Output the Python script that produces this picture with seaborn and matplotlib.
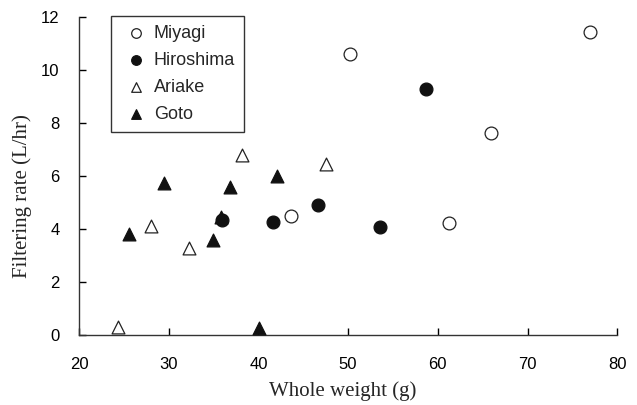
import matplotlib
matplotlib.use("Agg")
import matplotlib.pyplot as plt
import seaborn as sns
import pandas as pd

miyagi_x = [50.2, 77.0, 65.9, 61.2, 43.6]
miyagi_y = [10.6, 11.43, 7.62, 4.22, 4.48]
hiroshima_x = [58.7, 35.9, 41.6, 46.6, 53.6]
hiroshima_y = [9.27, 4.32, 4.26, 4.9, 4.08]
ariake_x = [24.4, 28.0, 32.3, 38.2, 47.5]
ariake_y = [0.3, 4.1, 3.3, 6.78, 6.47]
goto_x = [25.6, 29.5, 34.9, 36.8, 42.1, 40.1, 35.8]
goto_y = [3.8, 5.72, 3.58, 5.6, 6.0, 0.28, 4.45]

frames = []
for name, xs, ys in [("Miyagi", miyagi_x, miyagi_y), ("Hiroshima", hiroshima_x, hiroshima_y),
                     ("Ariake", ariake_x, ariake_y), ("Goto", goto_x, goto_y)]:
    frames.append(pd.DataFrame({"x": xs, "y": ys, "site": name}))
df = pd.concat(frames, ignore_index=True)

sns.set_style("ticks")
plt.rcParams["font.family"] = ["Liberation Sans", "DejaVu Sans"]

fig = plt.figure(figsize=(6.37, 4.05), dpi=100)
ax = fig.add_axes([0.124, 0.173, 0.845, 0.785])

styles = {
    "Miyagi": dict(marker="o", facecolor="white", edgecolor="#222222", s=85),
    "Hiroshima": dict(marker="o", facecolor="#111111", edgecolor="#111111", s=85),
    "Ariake": dict(marker="^", facecolor="white", edgecolor="#222222", s=85),
    "Goto": dict(marker="^", facecolor="#111111", edgecolor="#111111", s=85),
}
for name in ["Miyagi", "Hiroshima", "Ariake", "Goto"]:
    st = styles[name]
    sub = df[df["site"] == name]
    sns.scatterplot(data=sub, x="x", y="y", ax=ax, marker=st["marker"], s=st["s"],
                    facecolor=st["facecolor"], edgecolor=st["edgecolor"], linewidth=0.9,
                    label=name, clip_on=False, zorder=3)

ax.set_xlim(20, 80)
ax.set_ylim(0, 12)
ax.set_xticks(range(20, 81, 10))
ax.set_yticks(range(0, 13, 2))
ax.tick_params(direction="in", length=5, width=1, labelsize=12, colors="black")
ax.tick_params(axis="x", pad=16)
ax.tick_params(axis="y", pad=14)
for sp in ["top", "right"]:
    ax.spines[sp].set_visible(False)
for sp in ["left", "bottom"]:
    ax.spines[sp].set_color("#333333")
    ax.spines[sp].set_linewidth(1.0)

ax.set_xlabel("Whole weight (g)", family=["Liberation Serif"], fontsize=15)
ax.set_ylabel("Filtering rate (L/hr)", family=["Liberation Serif"], fontsize=15)
ax.xaxis.set_label_coords(0.49, -0.145)
ax.yaxis.set_label_coords(-0.087, 0.437)

leg = ax.legend(loc="upper left", bbox_to_anchor=(0.06, 1.003), frameon=True, fancybox=False,
                edgecolor="black", fontsize=13, handletextpad=0.15, labelspacing=0.55,
                borderpad=0.5, handlelength=1.7, borderaxespad=0.0, markerscale=0.75)
leg.get_frame().set_linewidth(1.0)

fig.savefig("out.png", dpi=100, facecolor="white")
